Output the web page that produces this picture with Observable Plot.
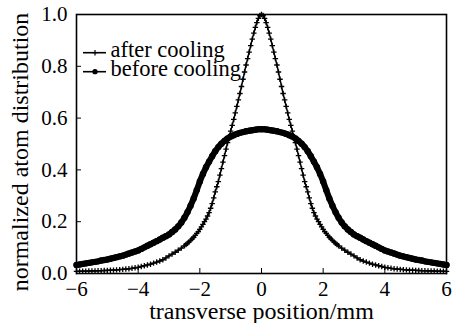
<!DOCTYPE html>
<html>
<head>
<meta charset="utf-8">
<script src="https://cdn.jsdelivr.net/npm/d3@7"></script>
<script src="https://cdn.jsdelivr.net/npm/@observablehq/plot@0.6"></script>
<style>
  html, body { margin: 0; padding: 0; background: #fff; }
  #chart { width: 452px; height: 323px; }
  #chart svg, #chart svg text { font-family: "Liberation Serif", "Times New Roman", Times, serif; }
</style>
</head>
<body>
<div id="chart"></div>
<script>
// Transverse atom distribution, normalized to the cooled-beam peak.

const xTicks = [-6, -4, -2, 0, 2, 4, 6];
const yTicks = [0, 0.2, 0.4, 0.6, 0.8, 1.0];
const seriesNames = ["after cooling", "before cooling"];

// after cooling: positions (mm) and normalized counts
const afterPos = [
  -6.0, -5.9, -5.8, -5.7, -5.6, -5.5, -5.4, -5.3, -5.2, -5.1, -5.0, -4.9,
  -4.8, -4.7, -4.6, -4.5, -4.4, -4.3, -4.2, -4.1, -4.0, -3.9, -3.8, -3.7,
  -3.6, -3.5, -3.4, -3.3, -3.2, -3.1, -3.0, -2.9, -2.8, -2.7, -2.6,
  -2.5, -2.45, -2.4, -2.35, -2.3, -2.25, -2.2, -2.15, -2.1, -2.05, -2.0,
  -1.95, -1.9, -1.85, -1.8, -1.75, -1.7, -1.65, -1.6, -1.55, -1.5,
  -1.45, -1.4, -1.35, -1.3, -1.25, -1.2, -1.15, -1.1, -1.05, -1.0,
  -0.95, -0.9, -0.85, -0.8, -0.75, -0.7, -0.65, -0.6, -0.55, -0.5,
  -0.45, -0.4, -0.35, -0.3, -0.25, -0.2, -0.15, -0.1, -0.05, 0.0,
  0.05, 0.1, 0.15, 0.2, 0.25, 0.3, 0.35, 0.4, 0.45, 0.5,
  0.55, 0.6, 0.65, 0.7, 0.75, 0.8, 0.85, 0.9, 0.95, 1.0,
  1.05, 1.1, 1.15, 1.2, 1.25, 1.3, 1.35, 1.4, 1.45, 1.5,
  1.55, 1.6, 1.65, 1.7, 1.75, 1.8, 1.85, 1.9, 1.95, 2.0,
  2.05, 2.1, 2.15, 2.2, 2.25, 2.3, 2.35, 2.4, 2.45, 2.5,
  2.6, 2.7, 2.8, 2.9, 3.0, 3.1, 3.2, 3.3, 3.4, 3.5, 3.6, 3.7,
  3.8, 3.9, 4.0, 4.1, 4.2, 4.3, 4.4, 4.5, 4.6, 4.7, 4.8, 4.9,
  5.0, 5.1, 5.2, 5.3, 5.4, 5.5, 5.6, 5.7, 5.8, 5.9, 6.0
];
const afterVal = [
  0.008, 0.0085, 0.009, 0.009, 0.0095, 0.010, 0.010, 0.0105, 0.011, 0.0115, 0.012, 0.0125,
  0.013, 0.014, 0.015, 0.016, 0.017, 0.018, 0.020, 0.022, 0.024, 0.027, 0.030, 0.033,
  0.036, 0.040, 0.044, 0.048, 0.053, 0.060, 0.068, 0.075, 0.082, 0.090, 0.098,
  0.107, 0.112, 0.117, 0.122, 0.128, 0.134, 0.140, 0.147, 0.155, 0.162, 0.170,
  0.180, 0.190, 0.200, 0.210, 0.222, 0.235, 0.252, 0.270, 0.292, 0.315,
  0.335, 0.355, 0.380, 0.405, 0.430, 0.455, 0.480, 0.505, 0.528, 0.550,
  0.572, 0.595, 0.620, 0.645, 0.670, 0.695, 0.722, 0.750, 0.778, 0.805,
  0.830, 0.855, 0.880, 0.905, 0.928, 0.950, 0.969, 0.985, 0.996, 1.000,
  0.996, 0.985, 0.969, 0.950, 0.928, 0.905, 0.880, 0.855, 0.830, 0.805,
  0.778, 0.750, 0.722, 0.695, 0.670, 0.645, 0.620, 0.595, 0.572, 0.550,
  0.528, 0.505, 0.480, 0.455, 0.430, 0.405, 0.380, 0.355, 0.335, 0.315,
  0.292, 0.270, 0.252, 0.235, 0.222, 0.210, 0.200, 0.190, 0.180, 0.170,
  0.162, 0.155, 0.147, 0.140, 0.134, 0.128, 0.122, 0.117, 0.112, 0.107,
  0.098, 0.090, 0.082, 0.075, 0.068, 0.060, 0.053, 0.048, 0.044, 0.040, 0.036, 0.033,
  0.030, 0.027, 0.024, 0.022, 0.020, 0.018, 0.017, 0.016, 0.015, 0.014, 0.013, 0.0125,
  0.012, 0.0115, 0.011, 0.0105, 0.010, 0.010, 0.0095, 0.009, 0.009, 0.0085, 0.008
];

// before cooling: positions (mm) and normalized counts
const beforePos = [
  -6.0, -5.9, -5.8, -5.7, -5.6, -5.5, -5.4, -5.3, -5.2, -5.1,
  -5.0, -4.9, -4.8, -4.7, -4.6, -4.5, -4.4, -4.3, -4.2, -4.1,
  -4.0, -3.9, -3.8, -3.7, -3.6, -3.5, -3.4, -3.3, -3.2, -3.1,
  -3.0, -2.9, -2.8, -2.7, -2.6, -2.5, -2.4, -2.3, -2.2, -2.1,
  -2.0, -1.9, -1.8, -1.7, -1.6, -1.5, -1.4, -1.3, -1.2, -1.1,
  -1.0, -0.9, -0.8, -0.7, -0.6, -0.5, -0.4, -0.3, -0.2, -0.1,
  0.0,
  0.1, 0.2, 0.3, 0.4, 0.5, 0.6, 0.7, 0.8, 0.9, 1.0,
  1.1, 1.2, 1.3, 1.4, 1.5, 1.6, 1.7, 1.8, 1.9, 2.0,
  2.1, 2.2, 2.3, 2.4, 2.5, 2.6, 2.7, 2.8, 2.9, 3.0,
  3.1, 3.2, 3.3, 3.4, 3.5, 3.6, 3.7, 3.8, 3.9, 4.0,
  4.1, 4.2, 4.3, 4.4, 4.5, 4.6, 4.7, 4.8, 4.9, 5.0,
  5.1, 5.2, 5.3, 5.4, 5.5, 5.6, 5.7, 5.8, 5.9, 6.0
];
const beforeVal = [
  0.033, 0.035, 0.037, 0.039, 0.041, 0.043, 0.045, 0.047, 0.050, 0.052,
  0.054, 0.057, 0.060, 0.063, 0.066, 0.069, 0.073, 0.077, 0.081, 0.085,
  0.089, 0.095, 0.101, 0.107, 0.113, 0.119, 0.125, 0.131, 0.138, 0.144,
  0.151, 0.160, 0.170, 0.182, 0.197, 0.215, 0.237, 0.262, 0.290, 0.322,
  0.355, 0.384, 0.410, 0.432, 0.453, 0.472, 0.488, 0.501, 0.512, 0.521,
  0.529, 0.534, 0.539, 0.543, 0.546, 0.549, 0.551, 0.553, 0.555, 0.557,
  0.557,
  0.557, 0.555, 0.553, 0.551, 0.549, 0.546, 0.543, 0.539, 0.534, 0.529,
  0.521, 0.512, 0.501, 0.488, 0.472, 0.453, 0.432, 0.410, 0.384, 0.355,
  0.322, 0.290, 0.262, 0.237, 0.215, 0.197, 0.182, 0.170, 0.160, 0.151,
  0.144, 0.138, 0.131, 0.125, 0.119, 0.113, 0.107, 0.101, 0.095, 0.089,
  0.085, 0.081, 0.077, 0.073, 0.069, 0.066, 0.063, 0.060, 0.057, 0.054,
  0.052, 0.050, 0.047, 0.045, 0.043, 0.041, 0.039, 0.037, 0.035, 0.033
];

const after = afterPos.map((x, i) => ({x, y: afterVal[i]}));
const before = beforePos.map((x, i) => ({x, y: beforeVal[i]}));

const serif = "\"Liberation Serif\", \"Times New Roman\", Times, serif";
const minus = (d) => d < 0 ? "\u2212" + Math.abs(d) : String(d);

const chart = Plot.plot({
  width: 452,
  height: 323,
  marginLeft: 76,
  marginRight: 6,
  marginTop: 14,
  marginBottom: 50,
  style: `font-family: ${serif}; font-size: 21px; color: black; background: white;`,
  x: {domain: [-6, 6]},
  y: {domain: [0, 1]},
  marks: [
    Plot.line(before, {x: "x", y: "y", stroke: "black", strokeWidth: 6, curve: "catmull-rom"}),
    Plot.dot(before, {x: "x", y: "y", r: 3.2, fill: "black", stroke: "none"}),
    Plot.line(after, {x: "x", y: "y", stroke: "black", strokeWidth: 1.5, curve: "catmull-rom"}),
    Plot.dot(after, {x: "x", y: "y", symbol: "plus", r: 1.9, stroke: "black", strokeWidth: 1.3}),
    Plot.frame({stroke: "black", strokeWidth: 1.6}),
    Plot.axisX({ticks: xTicks, tickFormat: minus, tickSize: -5, tickPadding: 13, label: null, fontSize: 21}),
    Plot.axisY({ticks: yTicks, tickFormat: d3.format(".1f"), tickSize: -5, tickPadding: 14, label: null, fontSize: 21}),
    Plot.text(["transverse position/mm"], {frameAnchor: "bottom", lineAnchor: "middle", dy: 37.5, fontSize: 24}),
    Plot.text(["normalized atom distribution"], {frameAnchor: "left", textAnchor: "middle", lineAnchor: "middle", dx: -56, dy: 8, rotate: -90, fontSize: 24}),
    Plot.text([seriesNames[0]], {frameAnchor: "top-left", textAnchor: "start", lineAnchor: "middle", dx: 34, dy: 35.5, fontSize: 22.5}),
    Plot.text([seriesNames[1]], {frameAnchor: "top-left", textAnchor: "start", lineAnchor: "middle", dx: 34, dy: 54.5, fontSize: 22.5})
  ]
});

document.getElementById("chart").appendChild(chart);

// Legend keys: a short line with each series' marker
const svg = d3.select(chart);
const keys = svg.append("g").attr("transform", "translate(83,0)");
const rows = [{y: 52.7, sym: d3.symbolPlus, fill: "none", stroke: "black", sw: 1.2, size: 12},
              {y: 71.7, sym: d3.symbolCircle, fill: "black", stroke: "none", sw: 0, size: 22}];
rows.forEach((r) => {
  keys.append("line").attr("x1", 0).attr("x2", 23).attr("y1", r.y).attr("y2", r.y)
    .attr("stroke", "black").attr("stroke-width", 1.6);
  keys.append("path").attr("d", d3.symbol(r.sym, r.size)())
    .attr("transform", `translate(12,${r.y})`)
    .attr("fill", r.fill).attr("stroke", r.stroke).attr("stroke-width", r.sw);
});
</script>
</body>
</html>
